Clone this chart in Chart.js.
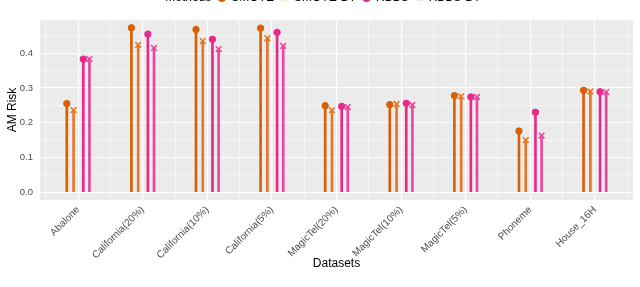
<!DOCTYPE html>
<html>
<head>
<meta charset="utf-8">
<script src="https://cdn.jsdelivr.net/npm/chart.js@4/dist/chart.umd.min.js"></script>
<style>
  html, body { margin: 0; padding: 0; background: #fff; overflow: hidden; }
  #wrap { position: absolute; left: 0; top: -30px; width: 640px; height: 317px; }
</style>
</head>
<body>
<div id="wrap"><canvas id="chart"></canvas></div>
<script>
const categories = ['Abalone', 'California(20%)', 'California(10%)', 'California(5%)',
  'MagicTel(20%)', 'MagicTel(10%)', 'MagicTel(5%)', 'Phoneme', 'House_16H'];
const smote = [0.255, 0.473, 0.468, 0.472, 0.249, 0.252, 0.278, 0.176, 0.293];
const smoteBt = [0.236, 0.424, 0.435, 0.443, 0.236, 0.254, 0.276, 0.150, 0.290];
const rbbs = [0.383, 0.455, 0.440, 0.460, 0.247, 0.256, 0.274, 0.230, 0.289];
const rbbsBt = [0.383, 0.415, 0.412, 0.421, 0.245, 0.251, 0.274, 0.163, 0.288];
const yTickValues = [0, 0.05, 0.1, 0.15, 0.2, 0.25, 0.3, 0.35, 0.4, 0.45];

const methods = [
  { name: 'SMOTE', values: smote, color: '#D95F02', marker: 'circle', offset: -0.175 },
  { name: 'SMOTE-BT', values: smoteBt, color: '#E3772A', marker: 'crossRot', offset: -0.07 },
  { name: 'RBBS', values: rbbs, color: '#E7298A', marker: 'circle', offset: 0.08 },
  { name: 'RBBS-BT', values: rbbsBt, color: '#E9479C', marker: 'crossRot', offset: 0.175 },
];

const xTickValues = [-0.5];
categories.forEach((c, i) => { xTickValues.push(i, i + 0.5); });

const toPoints = (m) => m.values.map((v, i) => ({ x: i + m.offset, y: v }));

const pointSets = methods.map((m) => ({
  type: 'line',
  label: m.name,
  data: toPoints(m),
  showLine: false,
  pointStyle: m.marker,
  pointRadius: m.marker === 'circle' ? 3.2 : 4,
  pointBackgroundColor: m.color,
  pointBorderColor: m.color,
  pointBorderWidth: m.marker === 'circle' ? 1 : 1.6,
  order: 0,
}));

const stemSets = methods.map((m) => ({
  type: 'bar',
  label: m.name + ' stem',
  data: toPoints(m),
  backgroundColor: m.color,
  barThickness: 2,
  grouped: false,
  order: 1,
}));

const panelBg = {
  id: 'panelBg',
  beforeDraw(chart) {
    const { ctx, chartArea: a } = chart;
    ctx.save();
    ctx.fillStyle = '#EBEBEB';
    ctx.fillRect(a.left, a.top, a.right - a.left, a.bottom - a.top);
    ctx.restore();
  },
};

const isMajorY = (v) => Math.round(v * 100) % 10 === 0;
const tickVal = (c) => (c.tick ? c.tick.value : 0);
const font = 'Liberation Sans, Arial, Helvetica, sans-serif';

const chart = new Chart(document.getElementById('chart'), {
  data: { datasets: [...pointSets, ...stemSets] },
  options: {
    responsive: true,
    maintainAspectRatio: false,
    animation: false,
    layout: { padding: { left: 0, right: 7, top: 0, bottom: 0 } },
    plugins: {
      tooltip: { enabled: false },
      legend: {
        position: 'top',
        labels: {
          usePointStyle: true,
          boxWidth: 7,
          boxHeight: 4.5,
          padding: 7,
          color: '#000',
          font: { family: font, size: 12 },
          generateLabels: () => [
            { text: 'Methods', fillStyle: 'rgba(0,0,0,0)', strokeStyle: 'rgba(0,0,0,0)', lineWidth: 0, pointStyle: 'circle', hidden: false },
            ...methods.map((m) => ({
              text: m.name,
              fillStyle: m.color,
              strokeStyle: m.color,
              lineWidth: 1.5,
              pointStyle: m.marker,
              hidden: false,
            })),
          ],
        },
      },
    },
    scales: {
      x: {
        type: 'linear',
        offset: false,
        min: -0.59,
        max: 8.59,
        afterBuildTicks: (s) => { s.ticks = xTickValues.map((v) => ({ value: v })); },
        afterFit: (s) => { s.height = 87.5; },
        grid: {
          offset: false,
          color: '#FFFFFF',
          lineWidth: (c) => (Number.isInteger(tickVal(c)) ? 1.1 : 0.55),
          drawTicks: false,
        },
        border: { display: false },
        ticks: {
          autoSkip: false,
          minRotation: 45,
          maxRotation: 45,
          padding: 4,
          color: '#4D4D4D',
          font: { family: font, size: 10 },
          callback: (v) => (Number.isInteger(v) ? categories[v] : ''),
        },
        title: {
          display: true,
          text: 'Datasets',
          color: '#000',
          font: { family: font, size: 12 },
          padding: { top: 0, bottom: 16.8 },
        },
      },
      xTop: {
        type: 'linear',
        position: 'top',
        display: true,
        afterFit: (s) => { s.height = 6; },
        grid: { display: false, drawTicks: false },
        border: { display: false },
        ticks: { display: false },
      },
      y: {
        min: -0.0224,
        max: 0.4955,
        afterBuildTicks: (s) => { s.ticks = yTickValues.map((v) => ({ value: v })); },
        afterFit: (s) => { s.width = 40; },
        grid: {
          color: '#FFFFFF',
          lineWidth: (c) => (isMajorY(tickVal(c)) ? 1.1 : 0.55),
          tickLength: 4,
          tickColor: 'rgba(0,0,0,0)',
        },
        border: { display: false },
        ticks: {
          padding: 3,
          color: '#4D4D4D',
          font: { family: font, size: 9.5 },
          callback: (v) => (isMajorY(v) ? v.toFixed(1) : ''),
        },
        title: {
          display: true,
          text: 'AM Risk',
          color: '#000',
          font: { family: font, size: 12 },
          padding: { top: 5.5, bottom: 0 },
        },
      },
    },
  },
  plugins: [panelBg],
});

// shift the canvas so the panel sits where the reference has it (legend is cropped at the top)
const wrap = document.getElementById('wrap');
const d = chart.chartArea.top - 19.5;
wrap.style.top = (-d) + 'px';
wrap.style.height = (287 + d) + 'px';
chart.resize();
</script>
</body>
</html>
